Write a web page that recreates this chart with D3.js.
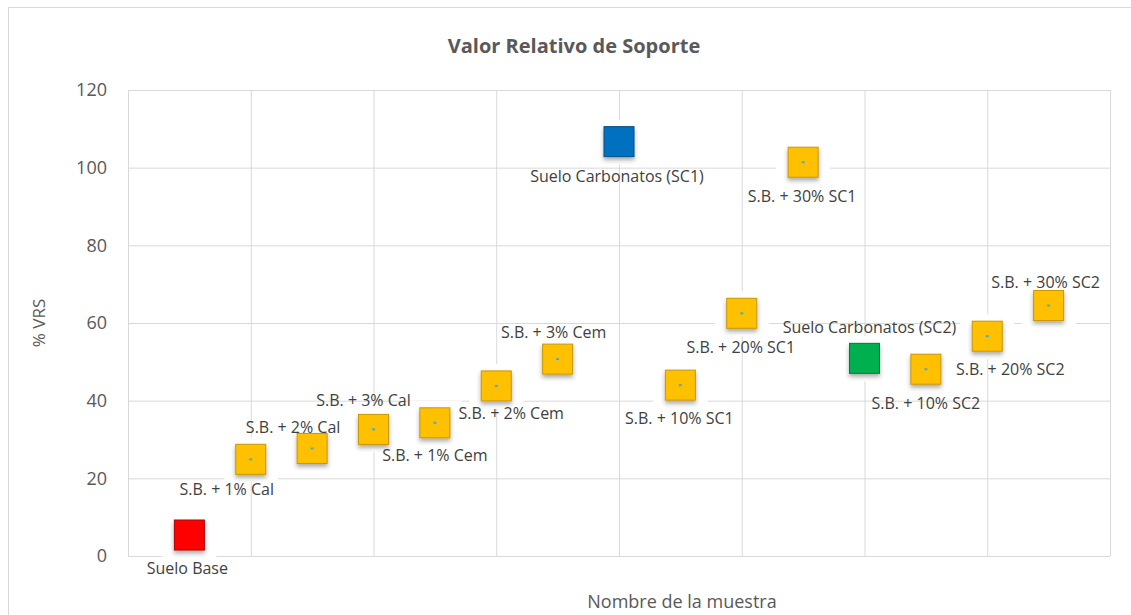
<!DOCTYPE html>
<html>
<head>
<meta charset="utf-8">
<script src="https://cdn.jsdelivr.net/npm/d3@7"></script>
<style>
  html, body { margin: 0; padding: 0; background: #fff; }
  svg { display: block; }
  text { font-family: "Open Sans", "Noto Sans", sans-serif; }
</style>
</head>
<body>
<svg id="chart" width="1131" height="615"></svg>
<script>
// ---- data ----
const sampleNames = [
  "Suelo Base", "S.B. + 1% Cal", "S.B. + 2% Cal", "S.B. + 3% Cal",
  "S.B. + 1% Cem", "S.B. + 2% Cem", "S.B. + 3% Cem",
  "Suelo Carbonatos (SC1)", "S.B. + 10% SC1", "S.B. + 20% SC1", "S.B. + 30% SC1",
  "Suelo Carbonatos (SC2)", "S.B. + 10% SC2", "S.B. + 20% SC2", "S.B. + 30% SC2"
];
const sampleX = [0.5, 1, 1.5, 2, 2.5, 3, 3.5, 4, 4.5, 5, 5.5, 6, 6.5, 7, 7.5];
const vrsValues = [5.4, 24.9, 27.7, 32.6, 34.3, 43.8, 50.7, 106.7, 44.0, 62.5, 101.4, 50.9, 48.1, 56.6, 64.5];
const sampleGroup = ["base", "mix", "mix", "mix", "mix", "mix", "mix", "sc1", "mix", "mix", "mix", "sc2", "mix", "mix", "mix"];
const yTicks = [0, 20, 40, 60, 80, 100, 120];
const xGridTicks = [0, 1, 2, 3, 4, 5, 6, 7, 8];
const chartTitle = "Valor Relativo de Soporte";
const xTitle = "Nombre de la muestra";
const yTitle = "% VRS";

// ---- layout / style (not data) ----
const labelDx = [-2, -24, -19, -10, 0, 15, -4, -2, -1, -1, -1, 5, 0, 23, -3];
const labelDy = [33, 30, -21, -29, 32, 27, -27, 34, 33, 34, 34, -31, 34, 33, -24];
const groupFill = { base: "#FF0000", mix: "#FFC000", sc1: "#0070C0", sc2: "#00B050" };
const groupStroke = { base: "#B00000", mix: "#C99700", sc1: "#00508A", sc2: "#007A38" };

const svg = d3.select("#chart");
const plot = { left: 128, right: 1110, top: 90, bottom: 556 };

const x = d3.scaleLinear().domain([0, 8]).range([plot.left, plot.right]);
const y = d3.scaleLinear().domain([0, 120]).range([plot.bottom, plot.top]);

// shadow filter
const defs = svg.append("defs");
const f = defs.append("filter").attr("id", "shadow").attr("x", "-40%").attr("y", "-40%").attr("width", "180%").attr("height", "190%");
f.append("feDropShadow").attr("dx", 0).attr("dy", 3).attr("stdDeviation", 2.2).attr("flood-color", "#333").attr("flood-opacity", 0.4);

// chart border
svg.append("rect").attr("x", 8.5).attr("y", 7.5).attr("width", 1140).attr("height", 640)
  .attr("fill", "none").attr("stroke", "#D9D9D9").attr("stroke-width", 1);

// gridlines via axes
const gy = svg.append("g").attr("transform", `translate(${plot.left},0)`)
  .call(d3.axisLeft(y).tickValues(yTicks).tickSize(-(plot.right - plot.left)).tickFormat(""));
gy.select(".domain").remove();
gy.selectAll("line").attr("stroke", "#D9D9D9").attr("stroke-width", 1);

const gx = svg.append("g").attr("transform", `translate(0,${plot.bottom})`)
  .call(d3.axisBottom(x).tickValues(xGridTicks).tickSize(-(plot.bottom - plot.top)).tickFormat(""));
gx.select(".domain").remove();
gx.selectAll("line").attr("stroke", "#D9D9D9").attr("stroke-width", 1);

// y tick labels
const yl = svg.append("g").attr("transform", `translate(${plot.left},0)`)
  .call(d3.axisLeft(y).tickValues(yTicks).tickSize(0).tickPadding(21));
yl.select(".domain").remove();
yl.selectAll("text").attr("fill", "#595959").style("font-size", "18px")
  .style("font-family", '"Open Sans", sans-serif');

// points
const pts = sampleNames.map((n, i) => ({ name: n, xv: sampleX[i], v: vrsValues[i], g: sampleGroup[i], i }));
const S = 30;
const pg = svg.append("g");
pts.forEach(d => {
  const cx = x(d.xv), cy = y(d.v);
  pg.append("rect").attr("x", cx - 27).attr("y", cy - 22).attr("width", 54).attr("height", 45).attr("fill", "#fff");
  pg.append("rect").attr("x", cx - S / 2).attr("y", cy - S / 2).attr("width", S).attr("height", S)
    .attr("fill", groupFill[d.g]).attr("stroke", groupStroke[d.g]).attr("stroke-width", 1)
    .attr("filter", "url(#shadow)");
  if (d.g === "mix") {
    pg.append("rect").attr("x", cx - 1.5).attr("y", cy - 1).attr("width", 3).attr("height", 2).attr("fill", "#4BACC6");
  }
});

// labels
svg.append("g").selectAll("text").data(pts).join("text")
  .attr("x", d => x(d.xv) + labelDx[d.i])
  .attr("y", d => y(d.v) + labelDy[d.i])
  .attr("text-anchor", "middle").attr("dominant-baseline", "central")
  .attr("fill", "#404040").style("font-size", "16px")
  .text(d => d.name);

// titles
svg.append("text").attr("x", 574).attr("y", 45).attr("text-anchor", "middle").attr("dominant-baseline", "central")
  .attr("fill", "#595959").style("font-size", "20px").style("font-weight", "bold").text(chartTitle);
svg.append("text").attr("x", 682).attr("y", 601).attr("text-anchor", "middle").attr("dominant-baseline", "central")
  .attr("fill", "#595959").style("font-size", "18px").text(xTitle);
svg.append("text").attr("transform", `translate(38,323) rotate(-90)`).attr("text-anchor", "middle").attr("dominant-baseline", "central")
  .attr("fill", "#595959").style("font-size", "17px").text(yTitle);
</script>
</body>
</html>
